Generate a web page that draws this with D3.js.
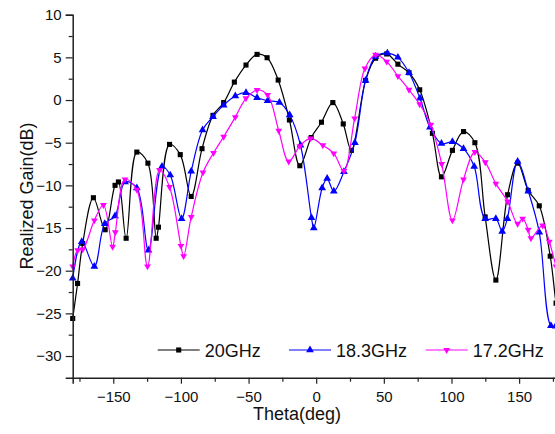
<!DOCTYPE html>
<html><head><meta charset="utf-8">
<script src="https://cdn.jsdelivr.net/npm/d3@7"></script>
<style>
html,body{margin:0;padding:0;background:#fff;overflow:hidden}
svg{display:block;font-family:"Liberation Sans",Arial,sans-serif}
</style></head>
<body><svg id="c" width="555" height="434"></svg>
<script>
const seriesNames = ["20GHz", "18.3GHz", "17.2GHz"];
const seriesColors = ["#000000", "#0000ff", "#ff00ff"];

const theta20 = [-180,-176.4,-172.6,-164.7,-156,-148.7,-146.2,-140.5,-132.6,-124.4,-118.3,-116.6,-108.4,-100.5,-92.4,-84.4,-76.3,-68.4,-60.5,-51.9,-43.7,-36.3,-28.1,-19.8,-12.1,-3.7,3.9,12.3,20,26,36.5,43.9,52.1,60.4,68.6,76.5,85.9,92.6,100.7,108.9,117.3,124.9,132.8,141.5,148.9,156.7,164.9,173,177.3,180];
const gain20  = [-25.6,-21.5,-16.8,-11.45,-15.2,-10.0,-9.6,-16.2,-6.1,-7.4,-16.2,-14.9,-5.2,-6.4,-11.3,-5.7,-1.8,-0.3,2.1,4.1,5.35,4.96,2.34,-2.34,-7.7,-4.4,-2.6,-0.3,-2.8,-5.9,2.3,4.9,5.4,4.2,3.2,1.2,-3.9,-9.0,-5.9,-3.7,-5.0,-13.7,-21.1,-11.1,-7.4,-10.6,-12.4,-18.3,-23.8,-26];

const theta18 = [-180,-173.3,-164,-156.3,-148.7,-141.3,-132.6,-124,-114,-107.9,-99.5,-92.4,-84,-76.3,-68.4,-59.8,-51.9,-43.7,-35.9,-27.2,-19.6,-11.6,-3.5,-1.8,4.4,8.1,13,20.5,28.6,36.5,43.9,52.6,60.4,68.6,76.7,84.1,92.6,100.7,108.9,116.8,124.9,132.8,137.5,141.3,148.9,156.8,164.9,173.5,177];
const gain18  = [-20.9,-16.6,-19.5,-14.5,-13.6,-9.6,-10.3,-17.6,-7.8,-8.8,-13.9,-8.35,-3.5,-1.95,-0.6,0.47,0.86,0.27,-0.08,-0.3,-1.76,-5.3,-13.8,-15.0,-10.3,-9.2,-10.7,-8.4,-5.0,2.3,5.1,5.5,5.0,3.2,0.2,-3.2,-5.1,-4.9,-5.7,-7.8,-13.9,-13.9,-15.4,-13.9,-7.2,-10.7,-15.5,-26.45,-26.5];

const theta17 = [-180,-176.3,-172.6,-164,-157.3,-150.5,-148.5,-141.3,-132.6,-124.7,-115.8,-108.4,-100,-98,-92.4,-83.7,-75.9,-68.4,-59.8,-51.9,-43.7,-35.9,-27.7,-20.3,-12.1,-4.2,4.9,13,20.5,28.4,36,43.9,52.1,60.4,68.6,76.5,84.7,92.8,100.7,108.9,117.3,125,132.8,141.5,148.9,152.6,156.7,158.7,167.4,172.3,177.3,180];
const gain17  = [-19.5,-17.6,-17.5,-14.1,-12.3,-17.2,-15.5,-9.3,-10.5,-19.5,-8.2,-10.2,-17.1,-18.3,-13.7,-8.5,-6.2,-4.3,-2.0,0.2,1.17,0.6,-3.6,-7.2,-5.4,-4.5,-5.3,-6.25,-8.3,-2.15,3.7,5.3,4.5,2.8,1.2,-0.5,-2.9,-7.5,-14.1,-9.3,-6.1,-7.3,-9.8,-11.9,-14.5,-13.9,-15.2,-16.2,-14.7,-16.6,-19.5,-21];

const xTicks = [-150,-100,-50,0,50,100,150];
const yTicks = [10,5,0,-5,-10,-15,-20,-25,-30];

const svg = d3.select("#c");
const x = d3.scaleLinear().domain([-180,180]).range([72.7,559.7]);
const y = d3.scaleLinear().domain([-32.54,10]).range([377.7,14.7]);

const series = [
  {t:theta20,g:gain20,sym:d3.symbolSquare,size:26,rot:0},
  {t:theta18,g:gain18,sym:d3.symbolTriangle,size:26,rot:0},
  {t:theta17,g:gain17,sym:d3.symbolTriangle,size:20,rot:180}
];

const line = d3.line().x(d=>x(d[0])).y(d=>y(d[1])).curve(d3.curveCatmullRom.alpha(0.5));

series.forEach((s,i)=>{
  const pts = s.t.map((t,k)=>[t,s.g[k]]);
  svg.append("path").datum(pts).attr("d",line)
    .attr("fill","none").attr("stroke",seriesColors[i]).attr("stroke-width",1.2);
  svg.append("g").selectAll("path").data(pts).join("path")
    .attr("d",d3.symbol().type(s.sym).size(s.size))
    .attr("transform",d=>`translate(${x(d[0])},${y(d[1])}) rotate(${s.rot})`)
    .attr("fill",seriesColors[i]);
});

// axes
const xAxis = d3.axisBottom(x).tickValues(xTicks).tickSize(6).tickPadding(8).tickFormat(d3.format("d"));
const gx = svg.append("g").attr("transform","translate(0,377.7)").call(xAxis);
const xMinor = d3.axisBottom(x).tickValues(d3.range(-175,180,50)).tickSize(4).tickFormat("");
svg.append("g").attr("transform","translate(0,377.7)").call(xMinor).select(".domain").remove();

const yAxis = d3.axisLeft(y).tickValues(yTicks).tickSize(7).tickPadding(4).tickFormat(d3.format("d"));
const gy = svg.append("g").attr("transform","translate(72.7,0)").call(yAxis);
const yMinor = d3.axisLeft(y).tickValues(d3.range(-27.5,10,5)).tickSize(4).tickFormat("");
svg.append("g").attr("transform","translate(72.7,0)").call(yMinor).select(".domain").remove();

svg.selectAll(".domain").attr("stroke","#222").attr("stroke-width",1.5);
svg.selectAll(".tick line").attr("stroke","#222").attr("stroke-width",1.2);
svg.selectAll(".tick text").attr("font-size",15).attr("fill","#111").attr("font-family","Liberation Sans, Arial, sans-serif");

svg.append("text").attr("x",297).attr("y",420).attr("text-anchor","middle")
  .attr("font-size",18).attr("fill","#111").text("Theta(deg)");
svg.append("text").attr("transform","translate(33,196) rotate(-90)").attr("text-anchor","middle")
  .attr("font-size",18).attr("fill","#111").text("Realized Gain(dB)");

// legend
const legX = [157.7, 289, 425.7];
seriesNames.forEach((n,i)=>{
  const g = svg.append("g");
  g.append("line").attr("x1",legX[i]).attr("x2",legX[i]+42).attr("y1",350).attr("y2",350)
    .attr("stroke",seriesColors[i]).attr("stroke-width",1.2);
  g.append("path").attr("d",d3.symbol().type(series[i].sym).size(series[i].size))
    .attr("transform",`translate(${legX[i]+21},350) rotate(${series[i].rot})`).attr("fill",seriesColors[i]);
  g.append("text").attr("x",legX[i]+47).attr("y",356.7).attr("font-size",18).attr("fill","#111").text(n);
});
</script></body></html>
